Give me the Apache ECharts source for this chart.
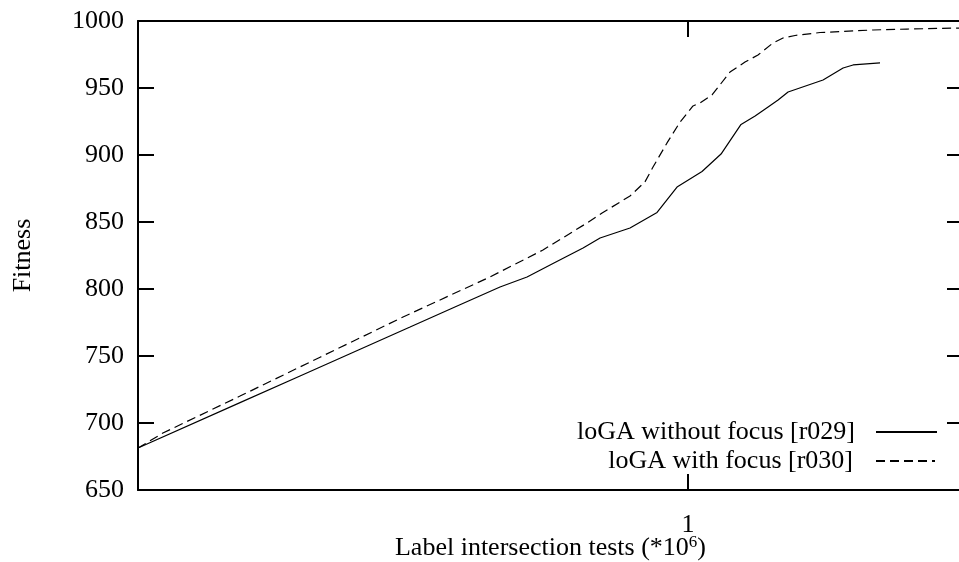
<!DOCTYPE html>
<html>
<head>
<meta charset="utf-8">
<script src="https://cdn.jsdelivr.net/npm/echarts@6/dist/echarts.min.js"></script>
<style>
  html, body { margin: 0; padding: 0; background: #fff; }
  #chart { width: 959px; height: 562px; }
</style>
</head>
<body>
<div id="chart"></div>
<script>
// Label intersection tests (in millions) for each run
const testsNoFocus = [0.25, 0.3233, 0.3761, 0.4266, 0.4963, 0.5557, 0.6226, 0.6665, 0.7150, 0.7676,
  0.8012, 0.8640, 0.9250, 0.9727, 1.0360, 1.0868, 1.1430, 1.1843, 1.2237, 1.2549, 1.2869,
  1.4055, 1.4783, 1.5160, 1.6226];
const fitnessNoFocus = [681.3, 715.2, 735.1, 751.7, 771.6, 786.6, 801.5, 809.0, 819.8, 830.6,
  838.1, 845.5, 857.1, 876.1, 887.7, 900.7, 922.8, 929.1, 935.8, 941.0, 947.0,
  956.0, 964.9, 967.2, 968.7];

const testsFocus = [0.25, 0.2662, 0.3233, 0.3956, 0.4876, 0.6071, 0.6938, 0.7754, 0.8053, 0.8640,
  0.8971, 0.9156, 0.9485, 0.9801, 1.0127, 1.0308, 1.0624, 1.1117, 1.1546, 1.1929, 1.2390,
  1.2707, 1.3097, 1.3949, 1.5942, 1.7370, 2.0];
const fitnessFocus = [681.3, 692.5, 720.1, 749.1, 779.1, 809.0, 829.1, 849.3, 856.7, 869.4,
  879.9, 891.0, 909.0, 924.6, 936.6, 938.8, 944.8, 961.9, 969.4, 974.6, 983.6,
  987.3, 989.2, 991.4, 993.3, 994.0, 994.8];

const seriesNames = ['loGA without focus [r029]', 'loGA with focus [r030]'];
const yTicks = { min: 650, max: 1000, step: 50 };
const xRange = { min: 0.25, max: 2 };

const FONT = 'Liberation Serif';
const zip = (xs, ys) => xs.map((x, i) => [x, ys[i]]);

const lineAxis = { show: true, onZero: false, lineStyle: { color: '#000', width: 2 } };
const tickIn = { show: true, inside: true, length: 16, lineStyle: { color: '#000', width: 2 } };
// legend shows only the line sample, no marker
const noMarker = { opacity: 0, color: 'rgba(0,0,0,0)', borderWidth: 0 };

const chart = echarts.init(document.getElementById('chart'), null, { renderer: 'canvas' });
chart.setOption({
  animation: false,
  backgroundColor: '#fff',
  grid: { left: 138, top: 21, width: 825, height: 469, containLabel: false, outerBoundsMode: 'none' },
  xAxis: [
    {
      type: 'log', logBase: 10, min: xRange.min, max: xRange.max, position: 'bottom',
      axisLine: lineAxis, axisTick: tickIn, splitLine: { show: false }, minorTick: { show: false },
      axisLabel: {
        margin: 22, color: '#000', fontFamily: FONT, fontSize: 26,
        showMinLabel: false, showMaxLabel: false,
        formatter: v => (Math.abs(v - 1) < 1e-9 ? '1' : '')
      },
      name: '{a|Label intersection tests (*10}{s|6}{a|)}',
      nameLocation: 'middle', nameGap: 44, nameMoveOverlap: false,
      nameTextStyle: {
        rich: {
          a: { fontFamily: FONT, fontSize: 26, color: '#000', lineHeight: 28 },
          s: { fontFamily: FONT, fontSize: 17, color: '#000', verticalAlign: 'top', lineHeight: 28, padding: [0, 0, 12, 0] }
        }
      }
    },
    {
      type: 'log', logBase: 10, min: xRange.min, max: xRange.max, position: 'top',
      axisLine: lineAxis, axisTick: tickIn, axisLabel: { show: false }, splitLine: { show: false }
    }
  ],
  yAxis: [
    {
      type: 'value', min: yTicks.min, max: yTicks.max, interval: yTicks.step, position: 'left',
      axisLine: lineAxis, axisTick: tickIn, splitLine: { show: false },
      axisLabel: { margin: 14, color: '#000', fontFamily: FONT, fontSize: 26, formatter: v => String(v) },
      name: 'Fitness', nameLocation: 'middle', nameGap: 102, nameRotate: 90, nameMoveOverlap: false,
      nameTextStyle: { fontFamily: FONT, fontSize: 26, color: '#000' }
    },
    {
      type: 'value', min: yTicks.min, max: yTicks.max, interval: yTicks.step, position: 'right',
      axisLine: lineAxis, axisTick: tickIn, axisLabel: { show: false }, splitLine: { show: false }
    }
  ],
  legend: [
    {
      data: [seriesNames[0]], right: 21, top: 419, align: 'right', orient: 'vertical',
      padding: 0, itemWidth: 61, itemHeight: 26, selectedMode: false, itemStyle: noMarker,
      textStyle: { fontFamily: FONT, fontSize: 26, color: '#000', padding: [0, 16, 0, 0] }
    },
    {
      data: [seriesNames[1]], right: 23, top: 448, align: 'right', orient: 'vertical',
      padding: 0, itemWidth: 59, itemHeight: 26, selectedMode: false, itemStyle: noMarker,
      textStyle: { fontFamily: FONT, fontSize: 26, color: '#000', padding: [0, 18, 0, 0] }
    }
  ],
  series: [
    {
      name: seriesNames[0], type: 'line', xAxisIndex: 0, yAxisIndex: 0,
      data: zip(testsNoFocus, fitnessNoFocus), symbol: 'none', showSymbol: false,
      lineStyle: { color: '#000', width: 1.2, type: 'solid' }, itemStyle: { color: '#000' }
    },
    {
      name: seriesNames[1], type: 'line', xAxisIndex: 0, yAxisIndex: 0,
      data: zip(testsFocus, fitnessFocus), symbol: 'none', showSymbol: false,
      lineStyle: { color: '#000', width: 1.2, type: [9, 5] }, itemStyle: { color: '#000' }
    }
  ]
});
</script>
</body>
</html>
